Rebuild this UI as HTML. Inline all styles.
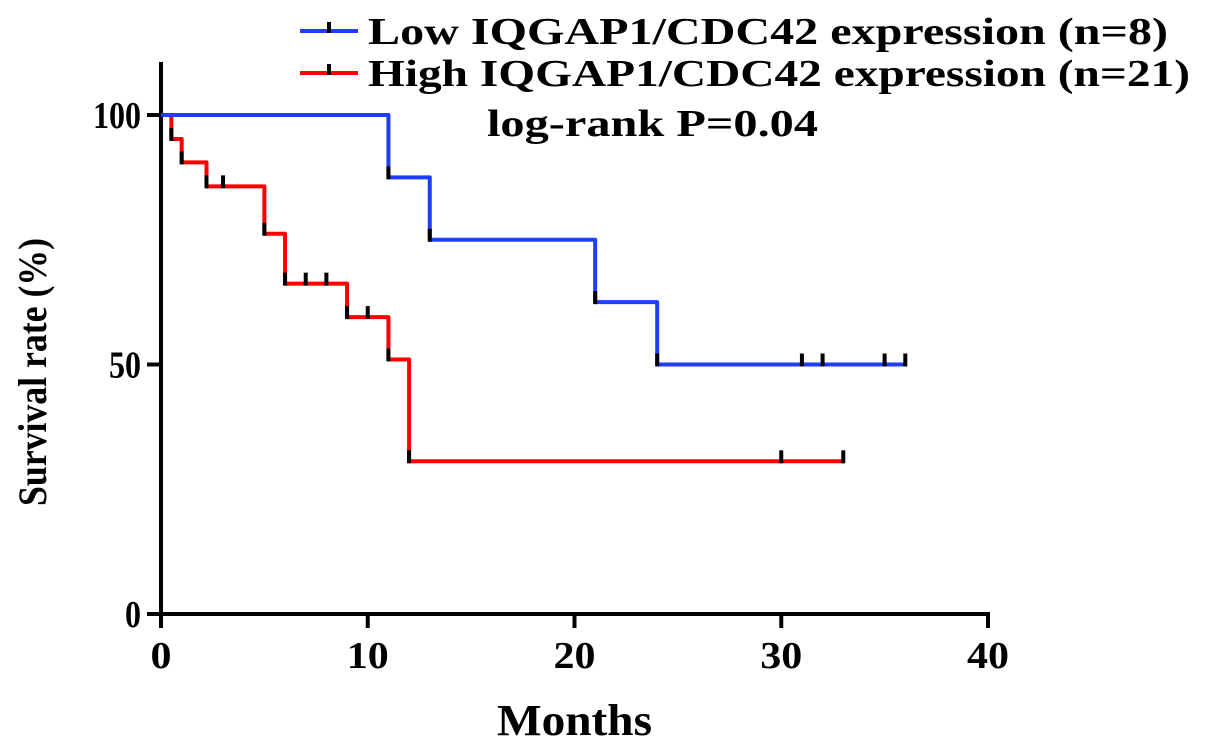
<!DOCTYPE html>
<html><head><meta charset="utf-8"><style>
body{margin:0;background:#fff;}
svg text{font-family:"Liberation Serif",serif;font-weight:bold;fill:#000;}
</style></head><body>
<svg id="chart" width="1205" height="750"></svg>
<script>
const lowTimes=[0,11,13,21,24,36];
const lowSurv=[100,87.5,75,62.5,50,50];
const lowCensor=[31,32,35,36];
const highTimes=[0,0.5,1,2.2,5,6,9,11,12,33];
const highSurv=[100,95.2,90.5,85.7,76.2,66.2,59.5,51,30.6,30.6];
const highCensor=[3,7,8,10,30,33];
const xTicks=[0,10,20,30,40];
const yTicks=[0,50,100];
const NS='http://www.w3.org/2000/svg';
const svg=document.getElementById('chart');
const X=v=>161+v*(988-161)/40;
const Y=v=>614-v*(614-115)/100;
function el(t,a,txt){const e=document.createElementNS(NS,t);for(const k in a)e.setAttribute(k,a[k]);if(txt!==undefined)e.textContent=txt;svg.appendChild(e);return e;}
let e;
e=el('line',{x1:X(0),y1:62,x2:X(0),y2:616,stroke:'#000','stroke-width':4});


e=el('line',{x1:X(0)-2,y1:Y(0),x2:X(40)+2,y2:Y(0),stroke:'#000','stroke-width':4});


xTicks.forEach(t=>{
 e=el('line',{x1:X(t),y1:Y(0),x2:X(t),y2:Y(0)+14,stroke:'#000','stroke-width':4});
 
 
 const s=String(t);
 e=el('text',{x:X(t),y:668,'font-size':38,'text-anchor':'middle',textLength:s.length*21,lengthAdjust:'spacingAndGlyphs'},s);
 
 
});
yTicks.forEach(t=>{
 e=el('line',{x1:X(0)-14,y1:Y(t),x2:X(0),y2:Y(t),stroke:'#000','stroke-width':4});
 
 
 const s=String(t);
 e=el('text',{x:X(0)-20,y:Y(t)+13,'font-size':38,'text-anchor':'end',textLength:s.length*16,lengthAdjust:'spacingAndGlyphs'},s);
 
 
});
function curve(times,surv,censor,color,name){
 let d='M'+X(times[0])+','+Y(surv[0]);
 for(let i=1;i<times.length;i++){d+=' H'+X(times[i])+' V'+Y(surv[i]);}
 const p=el('path',{d:d,fill:'none',stroke:color,'stroke-width':4,'stroke-linejoin':'round'});
 
 
 for(let i=1;i<times.length;i++){
  if(surv[i]!==surv[i-1]){
   const m=el('line',{x1:X(times[i]),y1:Y(surv[i])-11,x2:X(times[i]),y2:Y(surv[i])+2,stroke:'#000','stroke-width':4});
   
   
  }
 }
 censor.forEach(c=>{
  let s=surv[0];for(let i=0;i<times.length;i++){if(times[i]<=c)s=surv[i];}
  const m=el('line',{x1:X(c),y1:Y(s)-11,x2:X(c),y2:Y(s)+2,stroke:'#000','stroke-width':4});
  
  
 });
}
curve(highTimes,highSurv,highCensor,'#ff0000','high');
curve(lowTimes,lowSurv,lowCensor,'#1f3dff','low');
e=el('text',{x:497,y:735,'font-size':44,textLength:155,lengthAdjust:'spacingAndGlyphs'},'Months');


e=el('text',{x:0,y:0,'font-size':40,'text-anchor':'middle',textLength:268,lengthAdjust:'spacingAndGlyphs',transform:'translate(46,372) rotate(-90)'},'Survival rate (%)');


e=el('line',{x1:300,y1:31,x2:358,y2:31,stroke:'#1f3dff','stroke-width':4});


e=el('line',{x1:329,y1:22,x2:329,y2:33,stroke:'#000','stroke-width':4});


e=el('text',{x:368,y:44,'font-size':38,'xml:space':'preserve',textLength:800,lengthAdjust:'spacingAndGlyphs'},'Low  IQGAP1/CDC42 expression (n=8)');


e=el('line',{x1:300,y1:73,x2:358,y2:73,stroke:'#ff0000','stroke-width':4});


e=el('line',{x1:329,y1:64,x2:329,y2:75,stroke:'#000','stroke-width':4});


e=el('text',{x:368,y:86,'font-size':38,textLength:822,lengthAdjust:'spacingAndGlyphs'},'High IQGAP1/CDC42 expression (n=21)');


e=el('text',{x:487,y:136,'font-size':38,textLength:331,lengthAdjust:'spacingAndGlyphs'},'log-rank P=0.04');


</script>
</body></html>
